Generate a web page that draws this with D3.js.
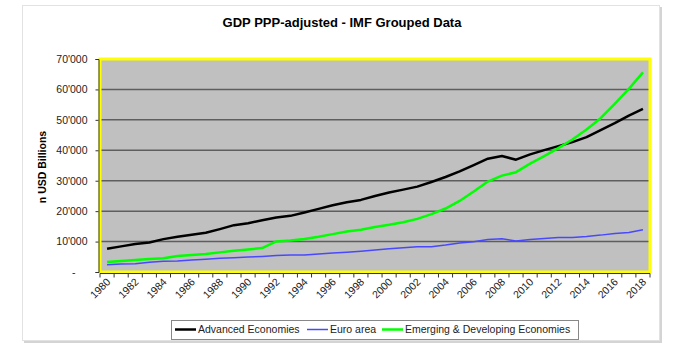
<!DOCTYPE html>
<html>
<head>
<meta charset="utf-8">
<script src="https://cdn.jsdelivr.net/npm/d3@7"></script>
<style>
    body { margin: 0; background: #fff; }
    text { font-family: Arial, "Liberation Sans", sans-serif; }
</style>
</head>
<body>
<div id="gdp_svg_container"></div>
<script>
// data (USD billions)
const years = [1980, 1981, 1982, 1983, 1984, 1985, 1986, 1987, 1988, 1989,
    1990, 1991, 1992, 1993, 1994, 1995, 1996, 1997, 1998, 1999,
    2000, 2001, 2002, 2003, 2004, 2005, 2006, 2007, 2008, 2009,
    2010, 2011, 2012, 2013, 2014, 2015, 2016, 2017, 2018];

const advanced = [7650, 8420, 9170, 9720, 10800, 11570, 12230, 12880, 14090, 15400,
    16050, 17030, 17900, 18450, 19550, 20740, 21950, 22930, 23690, 25000,
    26100, 27080, 28060, 29590, 31230, 33080, 35150, 37240, 38100, 36910,
    38650, 40060, 41370, 42680, 44320, 46610, 48900, 51420, 53620];

const euro_area = [2400, 2620, 2720, 3170, 3500, 3600, 3930, 4160, 4490, 4700,
    4900, 5130, 5460, 5570, 5570, 5900, 6220, 6450, 6780, 7210,
    7640, 7960, 8290, 8290, 8840, 9500, 9920, 10710, 10910, 10200,
    10710, 11040, 11370, 11370, 11690, 12120, 12680, 13000, 13860];

const emerging = [3280, 3600, 3930, 4260, 4490, 5240, 5570, 5900, 6450, 6980,
    7420, 7860, 10050, 10370, 10810, 11570, 12450, 13330, 13860, 14800,
    15500, 16380, 17460, 19000, 20860, 23350, 26430, 29710, 31670, 32800,
    35600, 38090, 40710, 43560, 46840, 50540, 55260, 60170, 65610];

const series_names = ["Advanced Economies", "Euro area", "Emerging & Developing Economies"];
const y_ticks = [0, 10000, 20000, 30000, 40000, 50000, 60000, 70000];

const series = [
    { name: series_names[0], values: advanced, color: "#000000", width: 2.5 },
    { name: series_names[1], values: euro_area, color: "#4848ff", width: 1.5 },
    { name: series_names[2], values: emerging, color: "#00ff00", width: 2.5 }
];

const gdp_margin = { top: 59, right: 30, bottom: 78, left: 100 },
    gdp_width = 680 - gdp_margin.left - gdp_margin.right,
    gdp_height = 350 - gdp_margin.top - gdp_margin.bottom;

const svg_root = d3.select("#gdp_svg_container")
    .append("svg")
    .attr("width", 680)
    .attr("height", 350);

// outer frame with a soft shadow
svg_root.append("rect")
    .attr("x", 24).attr("y", 7)
    .attr("width", 638).attr("height", 336)
    .attr("fill", "#d4d4d4");
svg_root.append("rect")
    .attr("x", 22.5).attr("y", 5.5)
    .attr("width", 637).attr("height", 335)
    .attr("fill", "#fff")
    .attr("stroke", "#e2e2e2");

svg_root.append("text")
    .attr("x", 342).attr("y", 27)
    .attr("text-anchor", "middle")
    .style("font-size", "13px")
    .style("font-weight", "bold")
    .text("GDP PPP-adjusted - IMF Grouped Data");

svg_root.append("text")
    .attr("transform", "translate(46, 167) rotate(-90)")
    .attr("text-anchor", "middle")
    .style("font-size", "10.5px")
    .style("font-weight", "bold")
    .text("n USD Billions");

const svg = svg_root.append("g")
    .attr("transform", `translate(${gdp_margin.left}, ${gdp_margin.top})`);

const x = d3.scaleBand()
    .domain(years)
    .range([0, gdp_width]);

const y = d3.scaleLinear()
    .domain([0, 70000])
    .range([gdp_height, 0]);

const fmt = d3.formatLocale({ decimal: ".", thousands: "'", grouping: [3], currency: ["", ""] }).format(",");

// plot area
svg.append("rect")
    .attr("width", gdp_width)
    .attr("height", gdp_height)
    .attr("fill", "#c0c0c0");

svg.append("g")
    .selectAll("line")
    .data(y_ticks.filter(d => d > 0 && d < 70000))
    .enter()
    .append("line")
    .attr("x1", 0).attr("x2", gdp_width)
    .attr("y1", d => y(d)).attr("y2", d => y(d))
    .attr("stroke", "#5e5e5e")
    .attr("stroke-width", 1.5);

svg.append("rect")
    .attr("width", gdp_width)
    .attr("height", gdp_height)
    .attr("fill", "none")
    .attr("stroke", "#ffff00")
    .attr("stroke-width", 3);

// Y axis
const y_axis = svg.append("g")
    .attr("transform", "translate(-1.5, 0)")
    .call(d3.axisLeft(y).tickValues(y_ticks).tickSize(3).tickPadding(8)
        .tickFormat(d => d === 0 ? "-" : fmt(d)));
y_axis.select(".domain").attr("stroke", "#333");
y_axis.selectAll(".tick line").attr("stroke", "#333");
y_axis.selectAll("text")
    .style("font-size", "10.5px")
    .attr("fill", "#222");
y_axis.select(".tick text").attr("dx", "-12");

// X axis
const x_axis = svg.append("g")
    .attr("transform", `translate(0, ${gdp_height + 1.5})`);
x_axis.append("line")
    .attr("x1", 0).attr("x2", gdp_width)
    .attr("stroke", "#333");
x_axis.selectAll(".xtick")
    .data(years.concat([null]))
    .enter()
    .append("line")
    .attr("x1", (d, i) => i * x.bandwidth())
    .attr("x2", (d, i) => i * x.bandwidth())
    .attr("y1", 0).attr("y2", 4)
    .attr("stroke", "#333");
x_axis.selectAll(".xlabel")
    .data(years.filter((d, i) => i % 2 === 0))
    .enter()
    .append("text")
    .attr("transform", d => `translate(${x(d) + x.bandwidth() / 2 + 4}, 9) rotate(-45)`)
    .attr("text-anchor", "end")
    .style("font-size", "10.5px")
    .attr("fill", "#222")
    .text(d => d);

// lines
const line = d3.line()
    .x((d, i) => x(years[i]) + x.bandwidth() / 2)
    .y(d => y(d));

svg.selectAll(".series")
    .data(series)
    .enter()
    .append("path")
    .attr("d", d => line(d.values))
    .attr("fill", "none")
    .attr("stroke", d => d.color)
    .attr("stroke-width", d => d.width)
    .attr("stroke-linejoin", "round");

// legend
const legend = svg_root.append("g");
legend.append("rect")
    .attr("x", 171.5).attr("y", 320.5)
    .attr("width", 407).attr("height", 19)
    .attr("fill", "#fff")
    .attr("stroke", "#888");

const legend_pos = [175, 307, 382];
const legend_items = legend.selectAll(".item")
    .data(series)
    .enter()
    .append("g")
    .attr("transform", (d, i) => `translate(${legend_pos[i]}, 329.5)`);
legend_items.append("line")
    .attr("x1", 0).attr("x2", 21)
    .attr("stroke", d => d.color)
    .attr("stroke-width", d => d.width);
legend_items.append("text")
    .attr("x", 23).attr("y", 3.5)
    .style("font-size", "10.5px")
    .attr("fill", "#222")
    .text(d => d.name);
</script>
</body>
</html>
